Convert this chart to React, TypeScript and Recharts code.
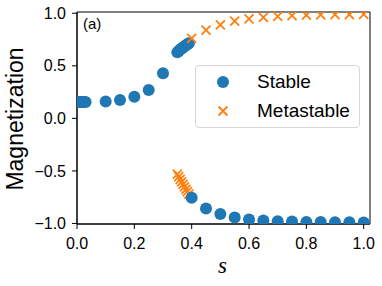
import {
  ScatterChart,
  Scatter,
  XAxis,
  YAxis,
  ReferenceArea,
} from 'recharts'

const BLUE = '#1f77b4'
const ORANGE = '#ff7f0e'
const FONT = '"Liberation Sans", Arial, sans-serif'

// upper branch, stable part
const upperStableS = [0, 0.005, 0.01, 0.015, 0.02, 0.025, 0.03, 0.1, 0.15, 0.2, 0.25, 0.3,
  0.35, 0.355, 0.36, 0.365, 0.37, 0.375, 0.38, 0.385, 0.39]
const upperStableM = [0.155, 0.155, 0.155, 0.155, 0.155, 0.156, 0.156, 0.16, 0.175, 0.205, 0.27, 0.43,
  0.63, 0.642, 0.654, 0.665, 0.675, 0.685, 0.695, 0.705, 0.715]

// upper branch, metastable part
const upperMetaS = [0.4, 0.45, 0.5, 0.55, 0.6, 0.65, 0.7, 0.75, 0.8, 0.85, 0.9, 0.95, 1.0]
const upperMetaM = [0.76, 0.84, 0.89, 0.925, 0.947, 0.96, 0.97, 0.977, 0.982, 0.985, 0.987, 0.988, 0.99]

// lower branch, metastable part
const lowerMetaS = [0.35, 0.355, 0.36, 0.365, 0.37, 0.375, 0.38, 0.385, 0.39]
const lowerMetaM = [-0.53, -0.555, -0.58, -0.605, -0.628, -0.652, -0.675, -0.698, -0.72]

// lower branch, stable part
const lowerStableS = [0.4, 0.45, 0.5, 0.55, 0.6, 0.65, 0.7, 0.75, 0.8, 0.85, 0.9, 0.95, 1.0]
const lowerStableM = [-0.755, -0.857, -0.91, -0.943, -0.962, -0.972, -0.978, -0.982, -0.985, -0.987, -0.988, -0.989, -0.99]

const xTicks = [0, 0.2, 0.4, 0.6, 0.8, 1.0]
const yTicks = [-1, -0.5, 0, 0.5, 1]

const legendItems = [
  { name: 'Stable', kind: 'dot' },
  { name: 'Metastable', kind: 'cross' },
]

const zip = (s: number[], m: number[]) => s.map((v, i) => ({ s: v, m: m[i] }))

const Dot = (p: any) => <circle cx={p.cx} cy={p.cy} r={6} fill={BLUE} />

const Cross = (p: any) => {
  const h = 4.5
  return (
    <path
      d={`M${p.cx - h},${p.cy - h}L${p.cx + h},${p.cy + h}M${p.cx - h},${p.cy + h}L${p.cx + h},${p.cy - h}`}
      stroke={ORANGE}
      strokeWidth={1.8}
      fill="none"
    />
  )
}

const fmt = (v: number) => v.toFixed(1).replace('-', '\u2212')

// legend drawn as an overlay so it doesn't eat into the plot area
function LegendBox() {
  return (
    <div
      style={{
        position: 'absolute',
        left: 195,
        top: 65,
        width: 165,
        height: 63,
        border: '1px solid #d6d6d6',
        borderRadius: 4,
        background: 'rgba(255,255,255,0.8)',
        fontFamily: FONT,
        fontSize: 19,
        boxSizing: 'border-box',
        paddingTop: 2,
      }}
    >
      {legendItems.map((r) => (
        <div key={r.name} style={{ display: 'flex', alignItems: 'center', height: 28.5 }}>
          <svg width={61} height={28} style={{ display: 'block' }}>
            {r.kind === 'dot' ? (
              <circle cx={27} cy={14} r={6} fill={BLUE} />
            ) : (
              <path d="M22.5,9.5L31.5,18.5M22.5,18.5L31.5,9.5" stroke={ORANGE} strokeWidth={1.8} />
            )}
          </svg>
          <span style={{ color: '#000' }}>{r.name}</span>
        </div>
      ))}
    </div>
  )
}

export default function App() {
  return (
    <div style={{ position: 'absolute', left: 0, top: 0, width: 382, height: 286, background: '#fff' }}>
      <ScatterChart width={382} height={286} margin={{ top: 12, right: 12, bottom: 0, left: 0 }}>
        <XAxis
          type="number"
          dataKey="s"
          domain={[0, 1.022]}
          ticks={xTicks}
          tickFormatter={fmt}
          allowDataOverflow
          height={62}
          tickSize={5}
          tickMargin={9}
          tick={{ fontSize: 16, fill: '#000', fontFamily: FONT }}
          tickLine={{ stroke: '#000' }}
          axisLine={{ stroke: '#000' }}
          label={{
            content: ({ viewBox }: any) => (
              <text
                x={viewBox.x + viewBox.width / 2 - 1}
                y={273}
                textAnchor="middle"
                fontSize={23}
                fontStyle="italic"
                fontFamily='"Liberation Serif", "DejaVu Serif", serif'
                fill="#000"
              >
                s
              </text>
            ),
          }}
        />
        <YAxis
          type="number"
          dataKey="m"
          domain={[-1.005, 1.012]}
          ticks={yTicks}
          tickFormatter={fmt}
          allowDataOverflow
          width={77}
          tickSize={5}
          tickMargin={6}
          tick={{ fontSize: 16, fill: '#000', fontFamily: FONT }}
          tickLine={{ stroke: '#000' }}
          axisLine={{ stroke: '#000' }}
          label={{
            content: ({ viewBox }: any) => (
              <text
                x={23}
                y={viewBox.y + viewBox.height / 2 + 1}
                transform={`rotate(-90 23 ${viewBox.y + viewBox.height / 2 + 1})`}
                textAnchor="middle"
                fontSize={23}
                fontFamily={FONT}
                fill="#000"
              >
                Magnetization
              </text>
            ),
          }}
        />
        <ReferenceArea
          x1={0}
          x2={1.022}
          y1={-1.005}
          y2={1.012}
          fill="none"
          stroke="#000"
          strokeWidth={1}
          label={{
            content: ({ viewBox }: any) => (
              <text x={viewBox.x + 6} y={viewBox.y + 17} fontSize={15} fontFamily={FONT} fill="#000">
                (a)
              </text>
            ),
          }}
        />
        <Scatter data={zip(upperStableS, upperStableM)} shape={Dot} isAnimationActive={false} />
        <Scatter data={zip(upperMetaS, upperMetaM)} shape={Cross} isAnimationActive={false} />
        <Scatter data={zip(lowerMetaS, lowerMetaM)} shape={Cross} isAnimationActive={false} />
        <Scatter data={zip(lowerStableS, lowerStableM)} shape={Dot} isAnimationActive={false} />
      </ScatterChart>
      <LegendBox />
    </div>
  )
}
